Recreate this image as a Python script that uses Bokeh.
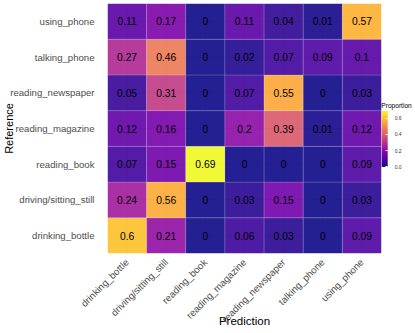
import math
from bokeh.plotting import figure
from bokeh.models import (ColumnDataSource, LinearColorMapper, ColorBar, FixedTicker,
                          FactorRange, PrintfTickFormatter)
from bokeh.palettes import Plasma256
from bokeh.transform import transform
from bokeh.core.properties import value
from bokeh.embed import file_html
from bokeh.resources import INLINE

classes = ["drinking_bottle", "driving/sitting_still", "reading_book",
           "reading_magazine", "reading_newspaper", "talking_phone", "using_phone"]

# proportions per Reference class (row), across Prediction classes (columns, same order)
ref_drinking_bottle = [0.6, 0.21, 0, 0.06, 0.03, 0, 0.09]
ref_driving_sitting_still = [0.24, 0.56, 0, 0.03, 0.15, 0, 0.03]
ref_reading_book = [0.07, 0.15, 0.69, 0, 0, 0, 0.09]
ref_reading_magazine = [0.12, 0.16, 0, 0.2, 0.39, 0.01, 0.12]
ref_reading_newspaper = [0.05, 0.31, 0, 0.07, 0.55, 0, 0.03]
ref_talking_phone = [0.27, 0.46, 0, 0.02, 0.07, 0.09, 0.1]
ref_using_phone = [0.11, 0.17, 0, 0.11, 0.04, 0.01, 0.57]

legend_ticks = [0.0, 0.2, 0.4, 0.6]

rows = [ref_drinking_bottle, ref_driving_sitting_still, ref_reading_book,
        ref_reading_magazine, ref_reading_newspaper, ref_talking_phone, ref_using_phone]

pred_col, ref_col, val_col, lab_col = [], [], [], []
for rname, row in zip(classes, rows):
    for pname, v in zip(classes, row):
        pred_col.append(pname)
        ref_col.append(rname)
        val_col.append(v)
        lab_col.append(f"{v:g}")
src = ColumnDataSource(dict(pred=pred_col, ref=ref_col, val=val_col, label=lab_col))

FONT = "Liberation Sans"
vmax = max(val_col)
mapper = LinearColorMapper(palette=Plasma256, low=0, high=vmax)

p = figure(width=415, height=333, output_backend="svg", toolbar_location=None,
           x_range=FactorRange(factors=classes), y_range=FactorRange(factors=classes),
           min_border_left=100, min_border_right=34, min_border_top=3, min_border_bottom=80)
p.outline_line_color = None
p.background_fill_color = "white"

p.rect(x="pred", y="ref", width=1, height=1, source=src,
       fill_color=transform("val", mapper), fill_alpha=0.9,
       line_color="white", line_alpha=0.25, line_width=0.6)
p.text(x="pred", y="ref", text="label", source=src, text_align="center",
       text_baseline="middle", text_font_size="10.3px", text_font=value(FONT),
       text_color="black")

for ax in (p.xaxis, p.yaxis):
    ax.axis_line_color = None
    ax.major_tick_line_color = None
    ax.minor_tick_line_color = None
    ax.major_label_text_font = FONT
    ax.major_label_text_color = "#4D4D4D"
    ax.axis_label_text_font = FONT
    ax.axis_label_text_font_style = "normal"
    ax.axis_label_text_color = "black"
p.yaxis.major_label_text_font_size = "9.6px"
p.yaxis.major_label_standoff = 7
p.yaxis.axis_label = "Reference"
p.yaxis.axis_label_text_font_size = "11px"
p.yaxis.axis_label_standoff = -8
p.xaxis.major_label_text_font_size = "9.7px"
p.xaxis.major_label_orientation = math.pi / 4
p.xaxis.major_label_standoff = 1
p.xaxis.axis_label = "Prediction"
p.xaxis.axis_label_text_font_size = "11.5px"
p.xaxis.axis_label_standoff = -16

p.grid.grid_line_color = "#EBEBEB"
p.grid.grid_line_width = 1

FRAME_BOTTOM = 249.8  # nominal frame bottom, used to place the legend pieces
cb = ColorBar(color_mapper=mapper, ticker=FixedTicker(ticks=legend_ticks),
              formatter=PrintfTickFormatter(format="%.1f"),
              orientation="vertical", location=(274.2, FRAME_BOTTOM - 163.2),
              width=6, height=56, padding=0, margin=0, label_standoff=7,
              major_label_text_font=FONT, major_label_text_font_size="5px",
              major_label_text_color="#333333",
              major_tick_in=2, major_tick_line_color="white",
              bar_line_color=None, border_line_color=None,
              background_fill_alpha=0)
p.add_layout(cb)

# legend title, carried by a bar-less horizontal colour bar so it reads horizontally
cb_title = ColorBar(color_mapper=mapper, ticker=FixedTicker(ticks=[]),
                    orientation="horizontal", location=(273.8, FRAME_BOTTOM - 106),
                    width=1, height=1, padding=0, margin=0, scale_alpha=0,
                    major_label_text_alpha=0, major_tick_line_color=None,
                    bar_line_color=None, border_line_color=None,
                    background_fill_alpha=0, title="Proportion", title_text_font=FONT,
                    title_text_color="black", title_text_font_size="6.6px",
                    title_text_font_style="normal", title_standoff=0)
p.add_layout(cb_title)

open("out.html", "w").write(file_html(p, INLINE))
